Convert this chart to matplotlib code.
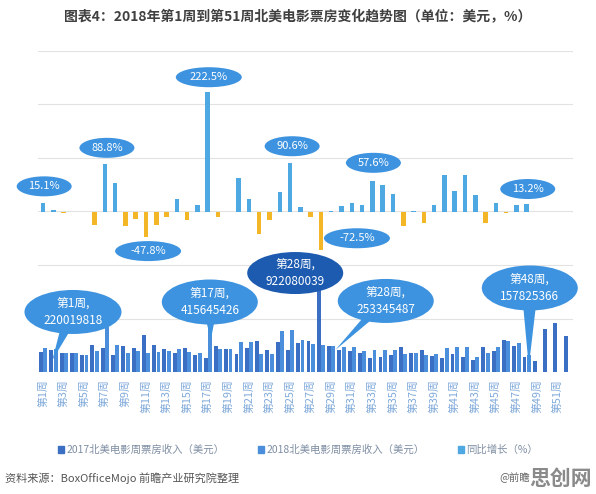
import numpy as np
import matplotlib
matplotlib.use("Agg")
import matplotlib.pyplot as plt
from matplotlib import patches, transforms
from matplotlib.patches import Patch

plt.rcParams['font.family'] = ['Noto Sans CJK SC', 'DejaVu Sans']

# data (weekly box office in million USD, growth in %)
weeks = [f"第{i}周" for i in range(1, 53)]

box_2017 = [191, 205, 182, 178, 160, 256, 223, 162, 240, 224,
            343, 256, 218, 176, 224, 156, 129, 240, 218, 171,
            224, 290, 203, 280, 205, 275, 290, 922.080039, 240, 210,
            200, 175, 130, 140, 155, 230, 180, 205, 150, 135,
            165, 140, 110, 230, 200, 300, 240, 139.4, 103, 405,
            458, 334]

box_2018 = [220.019818, 211, 178, 176, 158, 192, 421, 249, 173, 193,
            179, 190, 196, 218, 188, 175, 415.645426, 214, 216, 277,
            278, 168, 171, 381, 390, 296, 261, 253.345487, 241, 231,
            230, 196, 205, 210, 206, 166, 181, 160, 168, 228,
            229, 235, 144, 182, 230, 294, 271, 157.825366]

growth = [15.1, 3, -2, -1, -1, -25, 88.8, 54, -28, -14,
          -47.8, -26, -10, 24, -16, 12, 222.5, -11, -1, 62,
          24, -42, -16, 36, 90.6, 7.5, -10, -72.5, 0.5, 10,
          15, 12, 57.6, 50, 33, -28, 0.5, -22, 12, 69,
          39, 68, 31, -21, 15, -2, 13, 13.2]

legend_labels = ["2017北美电影周票房收入（美元）", "2018北美电影周票房收入（美元）", "同比增长（%）"]

# colours
c17 = '#3a6fc4'
c18 = '#4b8fdc'
c_pos = '#4ea8e2'
c_neg = '#f2b626'
c_bubble = '#3d93df'
c_dark = '#1c5bb0'

fig = plt.figure(figsize=(5.96, 4.94), dpi=100)
ax = fig.add_axes([38 / 596, 122 / 494, 535 / 596, 321 / 494])

x = np.arange(len(weeks))
ax.bar(x - 0.21, box_2017, width=0.38, color=c17, zorder=2)
ax.bar(x[:len(box_2018)] + 0.21, box_2018, width=0.38, color=c18, zorder=2)

ax2 = ax.twinx()
gcol = [c_pos if g >= 0 else c_neg for g in growth]
ax2.bar(x[:len(growth)], growth, width=0.44, color=gcol, zorder=2)

ax.set_xlim(-0.5, len(weeks) - 0.5)
ax.set_yticks(np.arange(0, 3001, 500))
ax.grid(axis='y', color='#e2e2e2', lw=0.8)
ax.set_axisbelow(True)
ax.tick_params(axis='y', left=False, right=False, labelleft=False, labelright=False)
ax.set_xticks(x[::2])
ax.set_xticklabels(weeks[::2], rotation=90, fontsize=7.8, color='#7fa9da')
ax.tick_params(axis='x', length=0, pad=5)
ax2.tick_params(axis='y', left=False, right=False, labelleft=False, labelright=False)
for s in list(ax.spines.values()) + list(ax2.spines.values()):
    s.set_visible(False)


def bubble(axis, cx, cy, w, h, color, text, fs, tip=None):
    if tip is not None:
        axis.add_patch(patches.Polygon([(cx - 0.8, cy), (cx + 0.8, cy), tip],
                                       closed=True, fc=color, ec='none',
                                       zorder=4, clip_on=False))
    tr = fig.dpi_scale_trans + transforms.ScaledTranslation(cx, cy, axis.transData)
    axis.add_patch(patches.Ellipse((0, 0), w / 100, h / 100, transform=tr,
                                   fc=color, ec='none', zorder=5, clip_on=False))
    axis.text(cx, cy, text, ha='center', va='center', color='white',
              fontsize=fs, zorder=6, linespacing=1.4)


# growth labels
growth_notes = [(0.1, 47, 0), (6.2, 119, 6), (16.1, 251, 16), (10.2, -74, 10),
                (24.2, 122, 24), (32.1, 91, 32), (30.5, -50, 27), (47.1, 42, 47)]
for cx, cy, i in growth_notes:
    txt = f"{growth[i]:.1f}%"
    w = 66 if len(txt) > 5 else 55
    bubble(ax2, cx, cy, w, 20, c_bubble, txt, 8)

# revenue callouts
bubble(ax, 2.9, 561, 97, 44, c_bubble, f"第1周,\n{box_2018[0] * 1e6:.0f}", 8.5, tip=(0.9, 112))
bubble(ax, 16.2, 654, 96, 45, c_bubble, f"第17周,\n{box_2018[16] * 1e6:.0f}", 8.5, tip=(16.3, 300))
bubble(ax, 24.5, 925, 96, 42, c_dark, f"第28周,\n{box_2017[27] * 1e6:.0f}", 8.5)
bubble(ax, 33.3, 664, 96, 44, c_bubble, f"第28周,\n{box_2018[27] * 1e6:.0f}", 8.5, tip=(28.4, 206))
bubble(ax, 47.3, 785, 96, 45, c_bubble, f"第48周,\n{box_2018[47] * 1e6:.0f}", 8.5, tip=(47.2, 50))

ax.set_ylim(0, 3000)
ax2.set_ylim(-300, 300)
ax2.set_xlim(-0.5, len(weeks) - 0.5)

fig.text(0.5, 1 - 17 / 494, "图表4：2018年第1周到第51周北美电影票房变化趋势图（单位：美元，%）",
         ha='center', va='center', fontsize=10, weight='bold', color='#404040')

handles = [Patch(color=c17), Patch(color=c18), Patch(color=c_pos)]
fig.legend(handles, legend_labels, loc='center', bbox_to_anchor=(0.5, 1 - 450 / 494),
           ncol=3, frameon=False, fontsize=7.5, handlelength=0.6, handleheight=0.6,
           handletextpad=0.2, columnspacing=3.2, labelcolor='#7f8ea3')

fig.text(5 / 596, 1 - 478 / 494, "资料来源：BoxOfficeMojo 前瞻产业研究院整理",
         fontsize=8, style='italic', color='#555555', va='center')
fig.text(530 / 596, 1 - 478 / 494, "@前瞻", fontsize=7.5, color='#666666',
         va='center', ha='right')
fig.text(592 / 596, 1 - 478 / 494, "思创网", fontsize=15, weight='bold',
         color='#8a8a8a', va='center', ha='right')

fig.savefig("out.png", dpi=100)
